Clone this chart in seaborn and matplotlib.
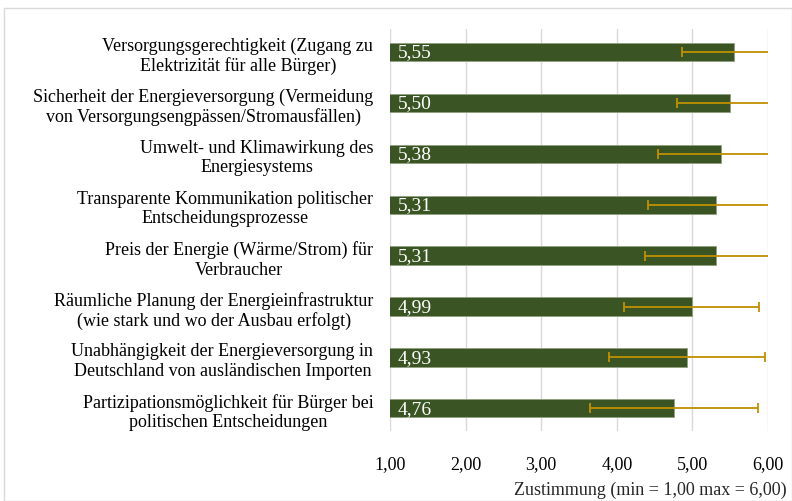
import matplotlib
matplotlib.use("Agg")
import matplotlib.pyplot as plt
import seaborn as sns
import pandas as pd
from matplotlib.ticker import FuncFormatter
from matplotlib.patches import Rectangle

categories = [
    "Versorgungsgerechtigkeit (Zugang zu\nElektrizität für alle Bürger)",
    "Sicherheit der Energieversorgung (Vermeidung\nvon Versorgungsengpässen/Stromausfällen)",
    "Umwelt- und Klimawirkung des\nEnergiesystems",
    "Transparente Kommunikation politischer\nEntscheidungsprozesse",
    "Preis der Energie (Wärme/Strom) für\nVerbraucher",
    "Räumliche Planung der Energieinfrastruktur\n(wie stark und wo der Ausbau erfolgt)",
    "Unabhängigkeit der Energieversorgung in\nDeutschland von ausländischen Importen",
    "Partizipationsmöglichkeit für Bürger bei\npolitischen Entscheidungen",
]
means = [5.55, 5.50, 5.38, 5.31, 5.31, 4.99, 4.93, 4.76]
sds = [0.69, 0.70, 0.84, 0.90, 0.94, 0.89, 1.03, 1.11]
xticks = [1, 2, 3, 4, 5, 6]
xlabel = "Zustimmung (min = 1,00 max = 6,00)"

sns.set_theme(style="white")
plt.rcParams["font.family"] = ["Liberation Serif", "DejaVu Serif"]

df = pd.DataFrame({"cat": categories, "mean": means, "sd": sds})

fig = plt.figure(figsize=(7.92, 5.02), dpi=100)
ax = fig.add_axes([0.4924, 0.139, 0.4773, 0.801])

sns.barplot(data=df, y="cat", x="mean", orient="h", color="#3A5424",
            saturation=1, width=0.36, edgecolor="#8FA07F", linewidth=0.6,
            ax=ax, zorder=3)

ypos = range(len(categories))
ax.errorbar(means, list(ypos), xerr=sds, fmt="none", ecolor="#BF9000",
            elinewidth=1.3, capsize=3.5, capthick=1.3, zorder=4)

for y, m in zip(ypos, means):
    ax.text(1.10, y, f"{m:.2f}".replace(".", ","), color="white",
            va="center", ha="left", fontsize=14, zorder=5)

ax.set_xlim(1, 6)
ax.set_ylim(len(categories) - 0.55, -0.45)
ax.set_xticks(xticks)
ax.xaxis.set_major_formatter(FuncFormatter(lambda v, p: f"{v:.2f}".replace(".", ",")))
ax.grid(axis="x", color="#D9D9D9", linewidth=1, zorder=0)
ax.set_axisbelow(True)
for s in ax.spines.values():
    s.set_visible(False)
ax.tick_params(axis="x", labelsize=13, pad=17, length=0, colors="black")
ax.tick_params(axis="y", labelsize=13, pad=12, length=0, colors="black")
for lbl in ax.get_yticklabels():
    lbl.set_multialignment("center")
ax.set_ylabel("")
ax.set_xlabel("")
fig.text(0.993, 0.006, xlabel, ha="right", va="bottom", fontsize=13)

fig.patches.append(Rectangle((0.005, 0.0), 0.995, 0.982, transform=fig.transFigure,
                             fill=False, edgecolor="#D9D9D9", linewidth=1))

fig.savefig("out.png", dpi=100)
